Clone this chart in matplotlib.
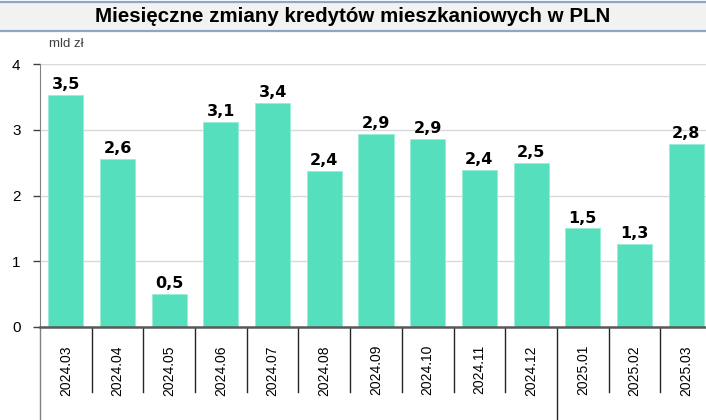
import matplotlib
matplotlib.use("Agg")
import matplotlib.pyplot as plt
from matplotlib.patches import Rectangle
from matplotlib.lines import Line2D
import matplotlib.transforms as mtransforms

title = "Miesięczne zmiany kredytów mieszkaniowych w PLN"
unit_label = "mld zł"
months = ["2024.03", "2024.04", "2024.05", "2024.06", "2024.07", "2024.08", "2024.09",
          "2024.10", "2024.11", "2024.12", "2025.01", "2025.02", "2025.03"]
values = [3.53, 2.56, 0.50, 3.12, 3.41, 2.38, 2.94, 2.86, 2.39, 2.50, 1.50, 1.26, 2.79]
value_labels = ["3,5", "2,6", "0,5", "3,1", "3,4", "2,4", "2,9", "2,9", "2,4", "2,5", "1,5", "1,3", "2,8"]
yticks = [0, 1, 2, 3, 4]
year_breaks = [-0.5, 9.5]   # lines that run down into the year row

W, H = 706, 420
fig = plt.figure(figsize=(W / 100, H / 100), dpi=100)

# title band
fig.patches.append(Rectangle((-0.01, 1 - 31 / H), 1.02, 29 / H, transform=fig.transFigure,
                             facecolor="#f2f2f2", edgecolor="#8ea6c4", lw=1.6, zorder=0))
fig.text(0.5, 1 - 17 / H, title, ha="center", va="center", fontsize=14.8,
         fontweight="bold", family="Liberation Sans", color="black")

# axes: x=40..712 px, y=64..327 px
ax = fig.add_axes([40 / W, (H - 327) / H, 672 / W, (327 - 64) / H])
x = list(range(len(months)))
ax.bar(x, values, width=0.68, color="#55dfbc", edgecolor="#9aecd6", lw=0.6, zorder=2)

ax.set_xlim(-0.5, len(months) - 0.5)
ax.set_ylim(0, 4)
ax.set_yticks(yticks)
ax.set_yticklabels([str(v) for v in yticks], fontsize=11, family="Liberation Sans")
ax.tick_params(axis="y", length=5, width=1, color="#404040", pad=9)
ax.yaxis.grid(True, color="#d9d9d9", lw=1, zorder=0)
ax.set_axisbelow(True)

ax.set_xticks(x)
ax.set_xticklabels(months, rotation=90, fontsize=10, family="Liberation Sans")
ax.tick_params(axis="x", length=0, pad=13)

for s in ["top", "right"]:
    ax.spines[s].set_visible(False)
ax.spines["left"].set_color("#808080")
ax.spines["bottom"].set_color("#595959")
ax.spines["bottom"].set_linewidth(1.8)
ax.spines["bottom"].set_zorder(3)

for xi, v, lab in zip(x, values, value_labels):
    ax.annotate(lab, (xi, v), xytext=(0, 2), textcoords="offset points",
                ha="center", va="bottom", fontsize=11.5, fontweight="bold", color="black")

# category separators below the axis
trans = mtransforms.blended_transform_factory(ax.transData, ax.transAxes)
short_bottom = -(392 - 327) / (327 - 64)
long_bottom = -(420 - 327) / (327 - 64)
for i in range(len(months) + 1):
    xb = i - 0.5
    yb = long_bottom if xb in year_breaks else short_bottom
    col = "#808080" if xb == -0.5 else "#262626"
    ax.add_line(Line2D([xb, xb], [0, yb], transform=trans, color=col, lw=1, clip_on=False))

fig.text(49 / W, 1 - 44 / H, unit_label, ha="left", va="center", fontsize=9.5,
         family="Liberation Sans", color="#404040")

plt.savefig("out.png", dpi=100)
